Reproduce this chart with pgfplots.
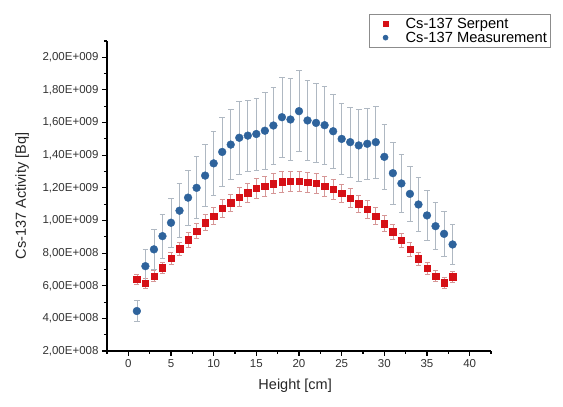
\documentclass[border=0pt]{standalone}
\usepackage{pgfplots}
\pgfplotsset{compat=1.18}
\usepackage{fontspec}
\setmainfont{Liberation Sans}

\definecolor{serpred}{RGB}{214,16,22}
\definecolor{measblue}{RGB}{46,99,156}
\definecolor{errgray}{RGB}{175,184,194}
\definecolor{errred}{RGB}{214,150,150}

% legend image: one mark with some room on its left
\pgfplotsset{
    spaced mark/.style={
        legend image code/.code={
            \path[draw=none, fill=none] (-14pt,0pt) (4pt,0pt);
            \draw[##1, only marks, mark size=#1] plot coordinates {(0pt,0pt)};}},
}

% Serpent calculation: height, activity, error
\pgfplotstableread{
x y e
1 6.39e8 0.30e8
2 6.15e8 0.30e8
3 6.59e8 0.33e8
4 7.10e8 0.35e8
5 7.68e8 0.38e8
6 8.26e8 0.41e8
7 8.82e8 0.44e8
8 9.35e8 0.47e8
9 9.86e8 0.49e8
10 10.28e8 0.51e8
11 10.74e8 0.54e8
12 11.08e8 0.55e8
13 11.43e8 0.57e8
14 11.70e8 0.58e8
15 11.96e8 0.60e8
16 12.10e8 0.60e8
17 12.25e8 0.61e8
18 12.37e8 0.62e8
19 12.41e8 0.62e8
20 12.41e8 0.62e8
21 12.35e8 0.62e8
22 12.27e8 0.61e8
23 12.10e8 0.60e8
24 11.90e8 0.60e8
25 11.66e8 0.58e8
26 11.37e8 0.57e8
27 11.02e8 0.55e8
28 10.68e8 0.53e8
29 10.27e8 0.51e8
30 9.80e8 0.49e8
31 9.31e8 0.47e8
32 8.80e8 0.44e8
33 8.23e8 0.41e8
34 7.65e8 0.38e8
35 7.07e8 0.35e8
36 6.59e8 0.33e8
37 6.18e8 0.31e8
38 6.55e8 0.33e8
}\serpent

% Measurement: height, activity, error
\pgfplotstableread{
x y e
1 4.45e8 0.65e8
2 7.20e8 1.05e8
3 8.23e8 1.20e8
4 9.04e8 1.35e8
5 9.86e8 1.50e8
6 10.60e8 1.65e8
7 11.40e8 1.70e8
8 12.00e8 1.90e8
9 12.75e8 1.90e8
10 13.50e8 1.97e8
11 14.20e8 2.10e8
12 14.65e8 2.15e8
13 15.07e8 2.24e8
14 15.20e8 2.17e8
15 15.30e8 2.20e8
16 15.50e8 2.38e8
17 15.82e8 2.35e8
18 16.33e8 2.45e8
19 16.19e8 2.50e8
20 16.70e8 2.48e8
21 16.13e8 2.45e8
22 15.98e8 2.40e8
23 15.84e8 2.40e8
24 15.47e8 2.25e8
25 15.00e8 2.20e8
26 14.80e8 2.14e8
27 14.60e8 2.20e8
28 14.70e8 2.20e8
29 14.80e8 2.20e8
30 13.90e8 2.00e8
31 12.90e8 1.90e8
32 12.27e8 1.80e8
33 11.63e8 1.70e8
34 10.98e8 1.65e8
35 10.31e8 1.55e8
36 9.65e8 1.45e8
37 9.18e8 1.35e8
38 8.53e8 1.25e8
}\measured

\begin{document}
\begin{tikzpicture}
\path (0,0) rectangle (563pt,407pt);
\begin{axis}[
    at={(107pt,56pt)}, anchor=south west,
    scale only axis,
    width=384pt, height=310pt,
    xmin=-2.5, xmax=42.5,
    ymin=2e8, ymax=2.1e9,
    axis x line=bottom, axis y line=left,
    axis line style={-, line width=1.2pt, black},
    tick align=outside,
    tick style={black, line width=1.1pt},
    major tick length=5pt, minor tick length=3pt,
    xtick={0,5,...,40},
    minor xtick={-2.5,2.5,...,42.5},
    ytick={2e8,4e8,6e8,8e8,1e9,1.2e9,1.4e9,1.6e9,1.8e9,2e9},
    minor ytick={3e8,5e8,7e8,9e8,1.1e9,1.3e9,1.5e9,1.7e9,1.9e9,2.1e9},
    yticklabels={{2,00E+008},{4,00E+008},{6,00E+008},{8,00E+008},{1,00E+009},
                 {1,20E+009},{1,40E+009},{1,60E+009},{1,80E+009},{2,00E+009}},
    scaled y ticks=false,
    /pgf/number format/assume math mode=true,
    ticklabel style={font=\fontsize{11.5}{13}\selectfont, text=black!80},
    xlabel={Height [cm]},
    ylabel={Cs-137 Activity [Bq]},
    label style={font=\fontsize{14.5}{16}\selectfont, text=black!85},
    xlabel style={at={(axis description cs:0.49,-0.113)}, anchor=center},
    ylabel style={at={(axis description cs:-0.221,0.5)}, anchor=center},
    legend style={at={(axis description cs:0.683,1.088)}, anchor=north west,
        draw=black!45, line width=0.6pt, font=\fontsize{14.7}{16}\selectfont,
        inner xsep=2pt, inner ysep=2pt, row sep=-2pt,
        nodes={inner xsep=1pt},
        /tikz/every odd column/.append style={column sep=15pt}},
    legend cell align=left,
    clip=false,
]
\addplot[only marks, mark=square*, mark size=3.2pt, color=serpred,
    spaced mark=2.3pt,
    error bars/.cd, y dir=both, y explicit,
    error bar style={errred, line width=0.7pt},
    error mark options={rotate=90, errred, mark size=2.5pt, line width=0.7pt}]
    table[x=x, y=y, y error=e] {\serpent};
\addlegendentry{Cs-137 Serpent}
\addplot[only marks, mark=*, mark size=3.9pt, color=measblue,
    spaced mark=2.5pt,
    error bars/.cd, y dir=both, y explicit,
    error bar style={errgray, line width=0.7pt},
    error mark options={rotate=90, errgray, mark size=2.8pt, line width=0.7pt}]
    table[x=x, y=y, y error=e] {\measured};
\addlegendentry{Cs-137 Measurement}
\end{axis}
\end{tikzpicture}
\end{document}
